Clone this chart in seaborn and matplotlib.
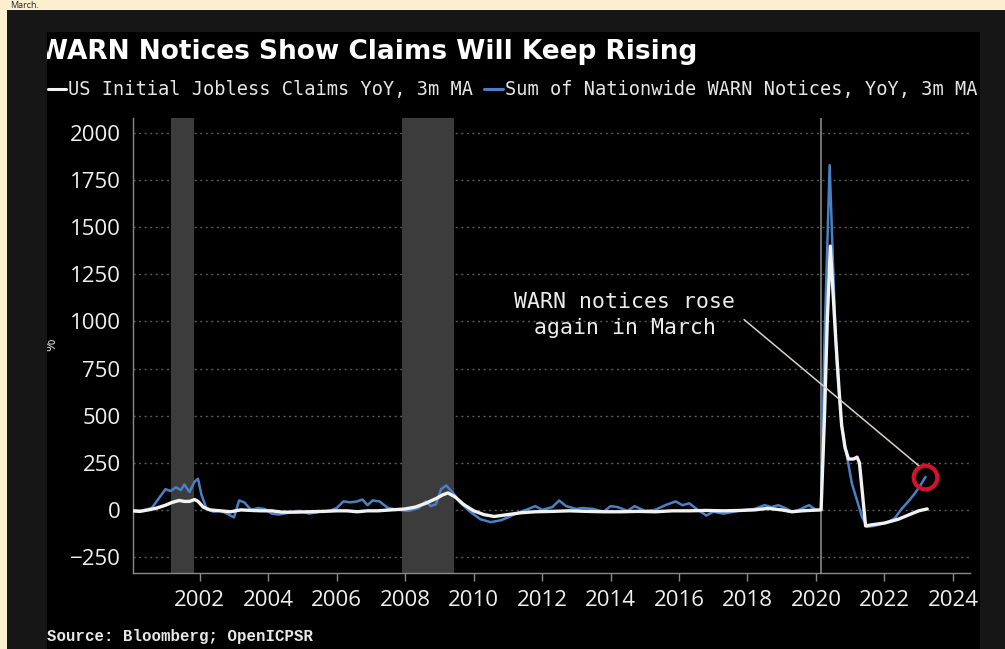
import matplotlib
matplotlib.use("Agg")
import matplotlib.pyplot as plt
from matplotlib.patches import Rectangle
from matplotlib.lines import Line2D
import pandas as pd
import seaborn as sns

# US initial jobless claims, YoY %, 3-month moving average
claims_t = [2000.0, 2000.25, 2000.5, 2000.75, 2001.0, 2001.2, 2001.4, 2001.55, 2001.7,
            2001.85, 2001.95, 2002.1, 2002.3, 2002.6, 2002.9, 2003.2, 2003.5, 2003.8,
            2004.1, 2004.4, 2004.8, 2005.2, 2005.6, 2006.0, 2006.3, 2006.6, 2006.9,
            2007.2, 2007.6, 2008.0, 2008.3, 2008.6, 2008.9, 2009.1, 2009.25, 2009.45,
            2009.7, 2010.0, 2010.3, 2010.6, 2011.0, 2011.4, 2011.8, 2012.3, 2012.8,
            2013.3, 2013.8, 2014.3, 2014.8, 2015.3, 2015.8, 2016.3, 2016.8, 2017.3,
            2017.8, 2018.2, 2018.6, 2019.0, 2019.3, 2019.6, 2019.9, 2020.15, 2020.25,
            2020.33, 2020.42, 2020.5, 2020.58, 2020.67, 2020.75, 2020.85, 2020.95,
            2021.1, 2021.2, 2021.27, 2021.45, 2021.6, 2021.8, 2022.0, 2022.2, 2022.4,
            2022.6, 2022.8, 2023.0, 2023.25]
claims_v = [-5, -8, 0, 10, 25, 40, 50, 45, 45,
            55, 45, 15, 0, -5, -10, 0, -3, -5,
            -5, -12, -12, -10, -8, -5, -5, -10, -5,
            -5, 0, 5, 15, 35, 60, 80, 90, 70,
            30, -5, -25, -35, -25, -15, -10, -8, -5,
            -8, -10, -10, -8, -10, -5, -5, -3, -5,
            -3, 0, 8, 0, -10, -5, -2, 0, 500,
            1000, 1400, 1150, 900, 650, 450, 330, 270,
            270, 280, 250, -85, -80, -75, -70, -60, -50,
            -35, -20, -5, 5]

# Sum of nationwide WARN notices, YoY %, 3-month moving average
warn_t = [2000.0, 2000.3, 2000.6, 2000.8, 2001.0, 2001.15, 2001.3, 2001.45, 2001.55,
          2001.7, 2001.85, 2001.95, 2002.05, 2002.2, 2002.4, 2002.6, 2002.8, 2003.0,
          2003.15, 2003.3, 2003.5, 2003.7, 2003.9, 2004.1, 2004.3, 2004.6, 2004.9,
          2005.2, 2005.5, 2005.8, 2006.0, 2006.2, 2006.4, 2006.6, 2006.75, 2006.9,
          2007.05, 2007.25, 2007.5, 2007.8, 2008.1, 2008.4, 2008.6, 2008.75, 2008.9,
          2009.05, 2009.2, 2009.4, 2009.6, 2009.9, 2010.2, 2010.5, 2010.8, 2011.0,
          2011.3, 2011.6, 2011.8, 2012.0, 2012.3, 2012.5, 2012.7, 2013.0, 2013.2,
          2013.5, 2013.8, 2014.0, 2014.2, 2014.5, 2014.7, 2015.0, 2015.3, 2015.6,
          2015.9, 2016.1, 2016.3, 2016.55, 2016.8, 2017.0, 2017.3, 2017.6, 2017.9,
          2018.2, 2018.5, 2018.7, 2018.9, 2019.1, 2019.3, 2019.5, 2019.8, 2020.0,
          2020.15, 2020.25, 2020.4, 2020.5, 2020.6, 2020.75, 2020.85, 2021.05, 2021.35,
          2021.5, 2021.7, 2021.9, 2022.1, 2022.3, 2022.5, 2022.7, 2022.9, 2023.05,
          2023.2]
warn_v = [0, -5, 10, 60, 110, 100, 120, 105, 135,
          95, 150, 165, 80, 5, -10, -5, -20, -40,
          50, 40, 0, 10, 5, -20, -25, -15, -5,
          -20, -10, -5, 10, 45, 40, 45, 55, 25,
          50, 45, 10, 0, -5, 10, 45, 20, 30,
          110, 130, 90, 40, -10, -50, -65, -55, -40,
          -15, 5, 20, 0, 15, 50, 20, 5, 10,
          5, -10, 20, 15, -5, 20, -5, 0, 25,
          45, 25, 35, 0, -30, -10, -20, -10, 0,
          5, 25, 15, 25, 10, -10, 0, 25, 0,
          0, 900, 1830, 1300, 800, 450, 340, 140, -40,
          -90, -85, -75, -65, -45, 5, 45, 90, 130,
          175]

# NBER recessions (start, end)
recessions = [(2001.17, 2001.83), (2007.92, 2009.42), (2020.13, 2020.19)]

y_ticks = [-250, 0, 250, 500, 750, 1000, 1250, 1500, 1750, 2000]
x_ticks = [2002, 2004, 2006, 2008, 2010, 2012, 2014, 2016, 2018, 2020, 2022, 2024]

title = "WARN Notices Show Claims Will Keep Rising"
claims_label = "US Initial Jobless Claims YoY, 3m MA"
warn_label = "Sum of Nationwide WARN Notices, YoY, 3m MA"
note = "WARN notices rose\nagain in March"
source = "Source: Bloomberg; OpenICPSR"

CREAM = "#fcefcf"
FRAME = "#161616"
WHITE = "#f2f2f2"
BLUE = "#4a80c6"
SHADE = "#3c3c3c"

sns.set_theme(style="dark")
plt.rcParams["font.family"] = ["Open Sans", "DejaVu Sans"]

W, H = 1005, 649
fig = plt.figure(figsize=(W / 100, H / 100), dpi=100, facecolor=CREAM)


def fx(x):
    return x / W


def fy(y):
    return 1 - y / H


def frame_rect(x0, y0, x1, y1, color, z):
    fig.patches.append(Rectangle((fx(x0), fy(y1)), (x1 - x0) / W, (y1 - y0) / H,
                                 transform=fig.transFigure, facecolor=color,
                                 edgecolor="none", zorder=z))


# outer dark frame and black chart panel
frame_rect(7, 10, W, H, FRAME, -3)
frame_rect(47, 32, 980, H, "#000000", -2)

# clipping borders drawn over the header texts
frame_rect(7, 10, 47, H, FRAME, 10)
frame_rect(980, 10, W, H, FRAME, 10)

fig.text(fx(10), fy(0.5), "March.", color="#222222", fontsize=6.5, va="top", ha="left")

fig.text(fx(39), fy(52), title, color="white", fontsize=19, fontweight="bold",
         family=["DejaVu Sans"], va="center", ha="left")

# header legend
mono = ["DejaVu Sans Mono"]
fig.lines.append(Line2D([fx(48), fx(66)], [fy(89), fy(89)], color=WHITE, lw=2.2,
                        transform=fig.transFigure))
fig.text(fx(68), fy(89), claims_label, color="#e6e6e6", fontsize=13.4, family=mono,
         va="center", ha="left")
fig.lines.append(Line2D([fx(484), fx(503)], [fy(89), fy(89)], color=BLUE, lw=2.2,
                        transform=fig.transFigure))
fig.text(fx(505), fy(89), warn_label, color="#e6e6e6", fontsize=13.4, family=mono,
         va="center", ha="left")

fig.text(fx(47), fy(636), source, color="#e8e8e8", fontsize=11.3, fontweight="bold",
         family=["Liberation Mono", "DejaVu Sans Mono"], va="center", ha="left")

fig.text(fx(52), fy(345), "%", color="#dddddd", fontsize=11, rotation=90,
         va="center", ha="center")

ax = fig.add_axes([fx(133), fy(573), (970 - 133) / W, (573 - 118) / H])
ax.set_facecolor("#000000")

for start, end in recessions:
    ax.axvspan(start, end, color=SHADE, lw=0, zorder=1)
ax.axvline(2020.16, color="#7a7a7a", lw=1.2, zorder=1.5)

claims = pd.DataFrame({"year": claims_t, "value": claims_v})
warn = pd.DataFrame({"year": warn_t, "value": warn_v})
sns.lineplot(data=warn, x="year", y="value", ax=ax, color=BLUE, lw=1.8,
             estimator=None, sort=False, zorder=3)
sns.lineplot(data=claims, x="year", y="value", ax=ax, color=WHITE, lw=2.4,
             estimator=None, sort=False, zorder=4)

# highlight the latest WARN reading
ax.plot([warn_t[-1]], [warn_v[-1]], marker="o", ms=17, mfc="none", mec="#d4122c",
        mew=3, zorder=5)
ax.plot([2017.9, 2023.0], [1010, 235], color="#d9d2c4", lw=1.1, zorder=5)
ax.text(2014.42, 1035, note, color="#ececec", fontsize=15.5, family=mono,
        ha="center", va="center", linespacing=1.4, zorder=6)

ax.set_xlim(2000.05, 2024.5)
ax.set_ylim(-335, 2080)
ax.set_xticks(x_ticks)
ax.set_yticks(y_ticks)
ax.set_xlabel("")
ax.set_ylabel("")
ax.grid(axis="y", color="#5a5a5a", linestyle=(0, (1.5, 2.5)), lw=1.0)
ax.grid(axis="x", visible=False)
ax.set_axisbelow(True)

for side in ("top", "right"):
    ax.spines[side].set_visible(False)
for side in ("left", "bottom"):
    ax.spines[side].set_color("#8a8a8a")
    ax.spines[side].set_linewidth(1.0)

ax.tick_params(axis="x", colors="#8a8a8a", labelcolor="#f0f0f0", labelsize=16,
               length=6, width=1, direction="out", pad=6, bottom=True)
ax.tick_params(axis="y", labelcolor="#f0f0f0", labelsize=16, length=0, pad=9)

fig.savefig("out.png", dpi=100, facecolor=CREAM)
